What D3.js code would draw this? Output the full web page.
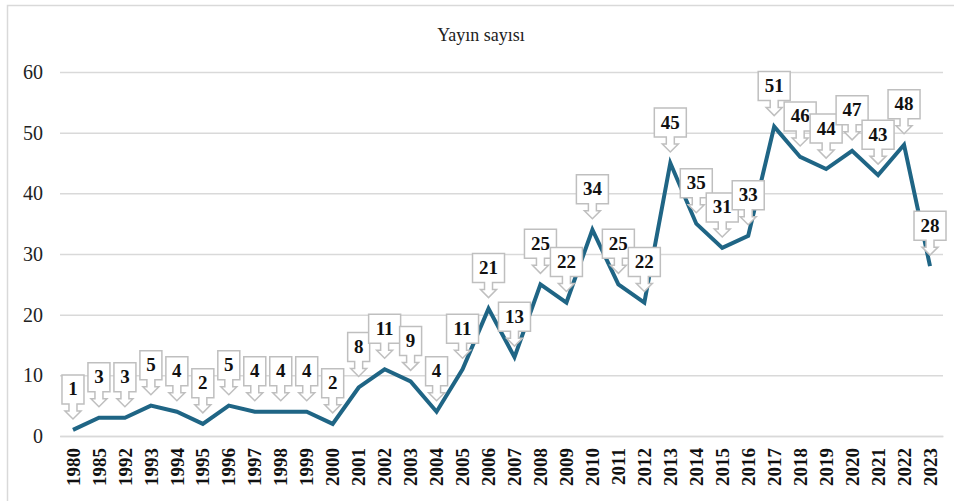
<!DOCTYPE html>
<html><head><meta charset="utf-8">
<script src="https://cdn.jsdelivr.net/npm/d3@7"></script>
<style>body{margin:0;background:#fff}svg{display:block}
svg text{font-family:'Liberation Serif','Times New Roman',serif}</style>
</head><body>
<script>
const title = "Yayın sayısı";
const years = ["1980","1985","1992","1993","1994","1995","1996","1997","1998","1999","2000","2001","2002","2003","2004","2005","2006","2007","2008","2009","2010","2011","2012","2013","2014","2015","2016","2017","2018","2019","2020","2021","2022","2023"];
const counts = [1,3,3,5,4,2,5,4,4,4,2,8,11,9,4,11,21,13,25,22,34,25,22,45,35,31,33,51,46,44,47,43,48,28];
const yTicks = [0,10,20,30,40,50,60];

const W = 954, H = 501;
const FF = "'Liberation Serif','Times New Roman',serif";
const svg = d3.select("body").append("svg").attr("width", W).attr("height", H);

svg.append("rect").attr("x", 7.5).attr("y", 5.5).attr("width", W + 10).attr("height", H + 10)
  .attr("fill", "none").attr("stroke", "#d9d9d9").attr("stroke-width", 1.5);

const x = d3.scaleBand().domain(years).range([60, 943]);
const y = d3.scaleLinear().domain([0, 60]).range([436, 72]);

svg.append("text").attr("x", 481).attr("y", 41).attr("text-anchor", "middle")
  .style("font-family", FF).style("font-size", "18px").attr("fill", "#222").text(title);

// grid
const yAxis = d3.axisLeft(y).tickValues(yTicks).tickSize(-(943 - 60)).tickPadding(17);
const gy = svg.append("g").attr("transform", "translate(60,0)").call(yAxis);
gy.select(".domain").remove();
gy.selectAll(".tick line").attr("stroke", "#d9d9d9").attr("stroke-width", 1.5);
gy.selectAll(".tick text").style("font-family", FF).style("font-size", "20px").attr("fill", "#222");

// x axis
const xAxis = d3.axisBottom(x).tickSize(0).tickPadding(8);
const gx = svg.append("g").attr("transform", "translate(0,436)").call(xAxis);
gx.select(".domain").attr("stroke", "#d9d9d9").attr("stroke-width", 1.5);
gx.selectAll(".tick text").style("font-family", FF).style("font-size", "19px").style("font-weight", "bold")
  .attr("fill", "#111")
  .attr("transform", "rotate(-90)").attr("text-anchor", "end").attr("dx", "-12").attr("dy", "0.35em").attr("x", 0).attr("y", 0);

// line
const data = years.map((yr, i) => ({yr, v: counts[i]}));
svg.append("path").datum(data)
  .attr("d", d3.line().x(d => x(d.yr) + x.bandwidth() / 2).y(d => y(d.v)))
  .attr("fill", "none").attr("stroke", "#1f6585").attr("stroke-width", 4).attr("stroke-linejoin", "miter");

// callouts
const lab = svg.append("g");
data.forEach(d => {
  const cx = x(d.yr) + x.bandwidth() / 2;
  const tip = y(d.v) - 11;
  const bw = d.v >= 10 ? 32 : 22;
  const bh = 29;
  const ah = 15, sh = 8, hh = 8;
  const bb = tip - ah;
  const bt = bb - bh;
  const hw = bw / 2;
  const pts = [
    [cx - hw, bt], [cx + hw, bt], [cx + hw, bb], [cx + sh / 2, bb], [cx + sh / 2, tip - hh],
    [cx + hh, tip - hh], [cx, tip], [cx - hh, tip - hh], [cx - sh / 2, tip - hh], [cx - sh / 2, bb], [cx - hw, bb]
  ];
  lab.append("path").attr("d", "M" + pts.map(p => p.join(",")).join("L") + "Z")
    .attr("fill", "#fff").attr("stroke", "#bfbfbf").attr("stroke-width", 1.5);
  lab.append("text").attr("x", cx).attr("y", bt + bh / 2 + 6).attr("text-anchor", "middle")
    .style("font-family", FF).style("font-size", "19px").style("font-weight", "bold").attr("fill", "#111").text(d.v);
});
</script>
</body></html>
